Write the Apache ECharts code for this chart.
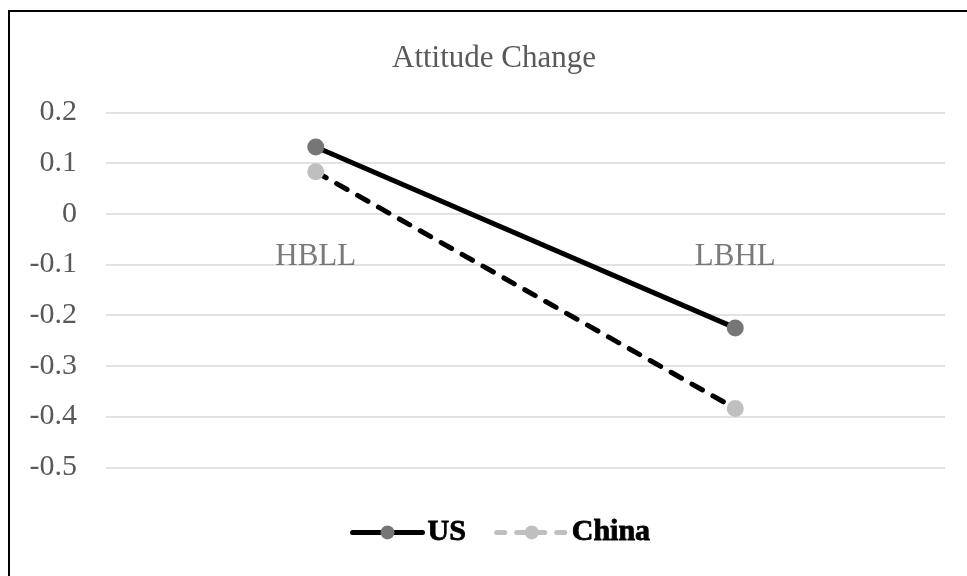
<!DOCTYPE html>
<html>
<head>
<meta charset="utf-8">
<script src="https://cdn.jsdelivr.net/npm/echarts@6/dist/echarts.min.js"></script>
<style>
  html, body { margin: 0; padding: 0; background: #fff; }
  #chart { width: 967px; height: 576px; }
</style>
</head>
<body>
<div id="chart"></div>
<script>
// Categories and series values
const categories = ['HBLL', 'LBHL'];
const usValues = [0.132, -0.225];
const chinaValues = [0.083, -0.384];
const seriesNames = ['US', 'China'];
const titleText = 'Attitude Change';

const serif = "'Times New Roman', 'Liberation Serif', serif";
const grey = '#595959';

const chart = echarts.init(document.getElementById('chart'), null, { renderer: 'canvas' });

chart.setOption({
  animation: false,
  backgroundColor: '#fff',
  title: {
    text: titleText,
    left: 392,
    top: 43,
    padding: 0,
    textStyle: { fontFamily: serif, fontSize: 31, fontWeight: 'normal', color: grey }
  },
  grid: { left: 106, right: 22, top: 112.5, bottom: 108.7, containLabel: false },
  legend: {
    left: 350,
    top: 517,
    padding: 0,
    itemWidth: 70,
    itemHeight: 17.5,
    itemGap: 28,
    textStyle: {
      fontFamily: serif, fontSize: 30, fontWeight: 'bold', color: '#000',
      textBorderColor: '#000', textBorderWidth: 0.8
    },
    data: [
      { name: seriesNames[0], itemStyle: { color: '#767676' }, lineStyle: { color: '#000', width: 5, type: 'solid', cap: 'round' } },
      { name: seriesNames[1], itemStyle: { color: '#bfbfbf' }, lineStyle: { color: '#bfbfbf', width: 5, type: [8, 12], cap: 'round' } }
    ]
  },
  xAxis: {
    type: 'category',
    data: categories,
    boundaryGap: true,
    axisLine: { show: false },
    axisTick: { show: false },
    // category names are drawn next to the zero line by the label series below
    axisLabel: { show: false },
    splitLine: { show: false }
  },
  yAxis: {
    type: 'value',
    min: -0.5,
    max: 0.2,
    interval: 0.1,
    axisLine: { show: false },
    axisTick: { show: false },
    axisLabel: {
      fontFamily: serif, fontSize: 30, color: grey, margin: 29,
      padding: [9, 0, 0, 0],
      formatter: v => String(Math.round(v * 10) / 10)
    },
    splitLine: { lineStyle: { color: '#d9d9d9', width: 1.5 } }
  },
  series: [
    {
      name: seriesNames[0],
      type: 'line',
      data: usValues,
      symbol: 'circle',
      symbolSize: 17,
      itemStyle: { color: '#767676' },
      lineStyle: { color: '#000', width: 5, type: 'solid' },
      z: 3
    },
    {
      name: seriesNames[1],
      type: 'line',
      data: chinaValues,
      symbol: 'circle',
      symbolSize: 17,
      itemStyle: { color: '#bfbfbf' },
      lineStyle: { color: '#000', width: 5, type: [12, 12], cap: 'round' },
      z: 2
    },
    {
      // category names sitting just under the zero line
      name: 'categoryLabels',
      type: 'scatter',
      data: categories.map(c => [c, 0]),
      symbolSize: 0,
      silent: true,
      z: 1,
      label: {
        show: true,
        position: 'bottom',
        distance: 27,
        formatter: p => p.value[0],
        fontFamily: serif, fontSize: 31, color: grey
      }
    }
  ],
  graphic: [
    {
      type: 'rect',
      silent: true,
      shape: { x: 9, y: 11, width: 1200, height: 1000 },
      style: { fill: 'none', stroke: '#000', lineWidth: 2 },
      z: 100
    }
  ]
});
</script>
</body>
</html>
